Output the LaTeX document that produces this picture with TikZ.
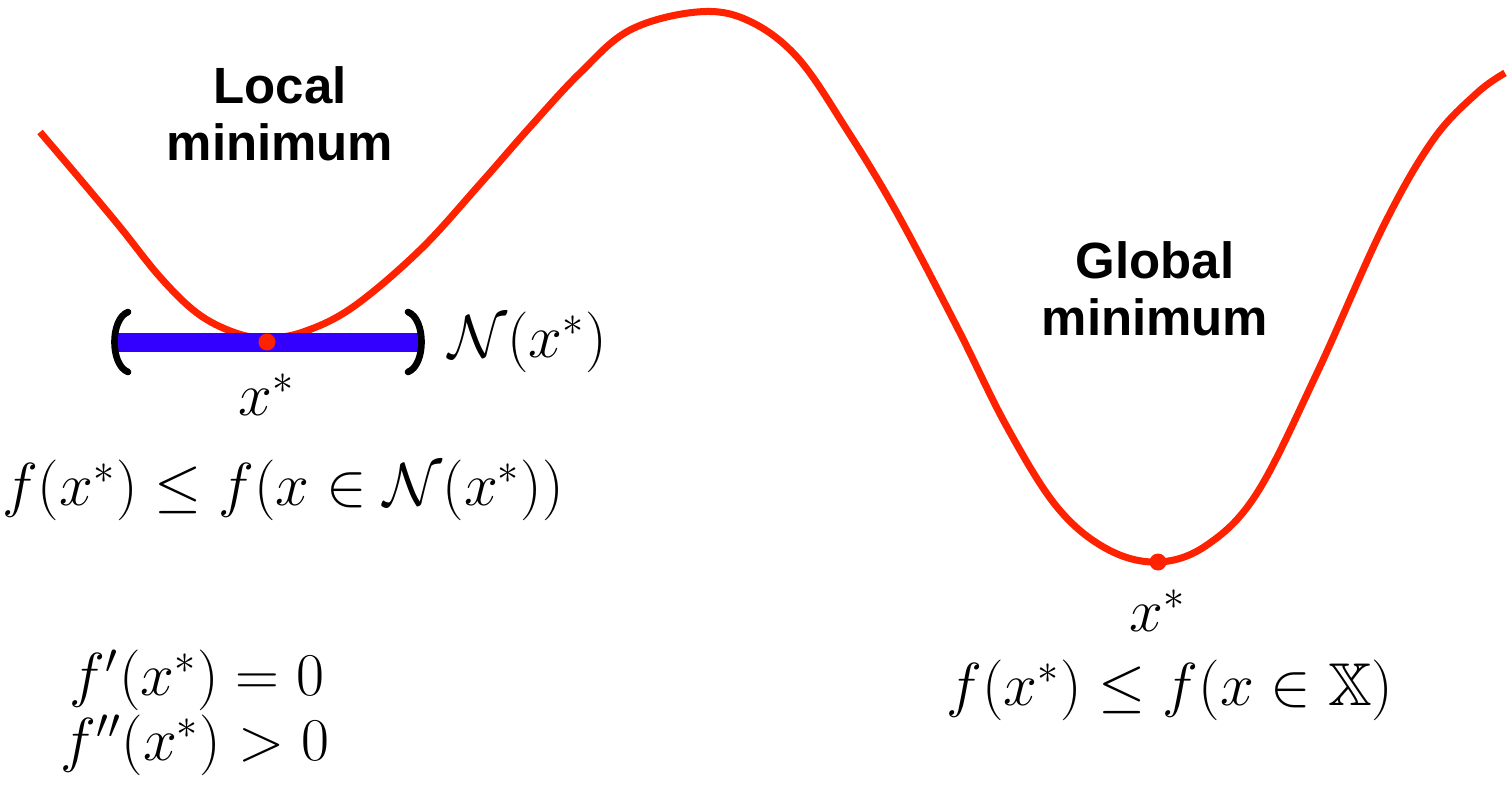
\documentclass[tikz,border=0pt]{standalone}
\usepackage{amsmath,amssymb}
\usepackage{fontspec}
\setsansfont{Liberation Sans}
\usetikzlibrary{positioning}
\definecolor{curvered}{RGB}{255,34,0}
\definecolor{nbhdblue}{RGB}{51,0,255}

\begin{document}
\begin{tikzpicture}[
  curve/.style={line width=2pt, draw=curvered, line join=round},
  heading/.style={align=center, font=\fontsize{14.5}{16.2}\selectfont\sffamily\bfseries},
  formula/.style={font=\fontsize{17.2}{20}\selectfont, inner sep=0pt},
  optimum/.style={circle, fill=curvered, inner sep=0pt, minimum size=0.17cm},
  paren/.style={line width=1.9pt, line cap=round}]
  \useasboundingbox (0,0) rectangle (15.10,7.99);

  % objective function
  \draw[curve] plot[smooth, tension=0.6] coordinates {
    (0.40,6.67) (0.80,6.20) (1.20,5.72) (1.60,5.22) (1.97,4.86) (2.33,4.67)
    (2.65,4.61) (3.03,4.67) (3.53,4.92) (4.20,5.49) (4.80,6.15) (5.30,6.72)
    (5.80,7.26) (6.30,7.69) (6.97,7.87) (7.47,7.79) (7.97,7.42) (8.47,6.69)
    (8.97,5.86) (9.57,4.72) (10.07,3.72) (10.57,2.92) (11.07,2.50)
    (11.58,2.37) (12.07,2.54) (12.57,3.06) (13.17,4.26) (13.83,5.72)
    (14.33,6.59) (14.77,7.06) (15.05,7.26)};

  % neighbourhood of the local minimum
  \coordinate (nleft) at (1.18,4.57);
  \coordinate (nright) at (4.20,4.57);
  \draw[nbhdblue, line width=0.19cm] (nleft) -- (nright);
  \draw[paren] (1.28,4.87) .. controls (1.10,4.80) and (1.10,4.34) .. (1.28,4.27);
  \draw[paren] (4.08,4.87) .. controls (4.26,4.80) and (4.26,4.34) .. (4.08,4.27);

  \node[optimum] (localopt) at (2.67,4.57) {};
  \node[optimum] (globalopt) at (11.58,2.37) {};

  % labels
  \node[heading] (localhead) at (2.80,6.85) {Local\\minimum};
  \node[heading] (globalhead) at (11.55,5.10) {Global\\minimum};

  \node[formula, right=0.28cm of nright] (nbhd) {$\mathcal{N}(x^*)$};
  \node[formula, below=0.22cm of localopt] (localx) {$x^*$};
  \node[formula] (localcond) at (2.83,3.09) {$f(x^*) \leq f(x \in \mathcal{N}(x^*))$};
  \node[formula] (firstorder) at (1.97,1.19) {$f'(x^*) = 0$};
  \node[formula] (secondorder) at (1.95,0.54) {$f''(x^*) > 0$};
  \node[formula, below=0.18cm of globalopt] (globalx) {$x^*$};
  \node[formula] (globalcond) at (11.70,1.09) {$f(x^*) \leq f(x \in \mathbb{X})$};
\end{tikzpicture}
\end{document}
